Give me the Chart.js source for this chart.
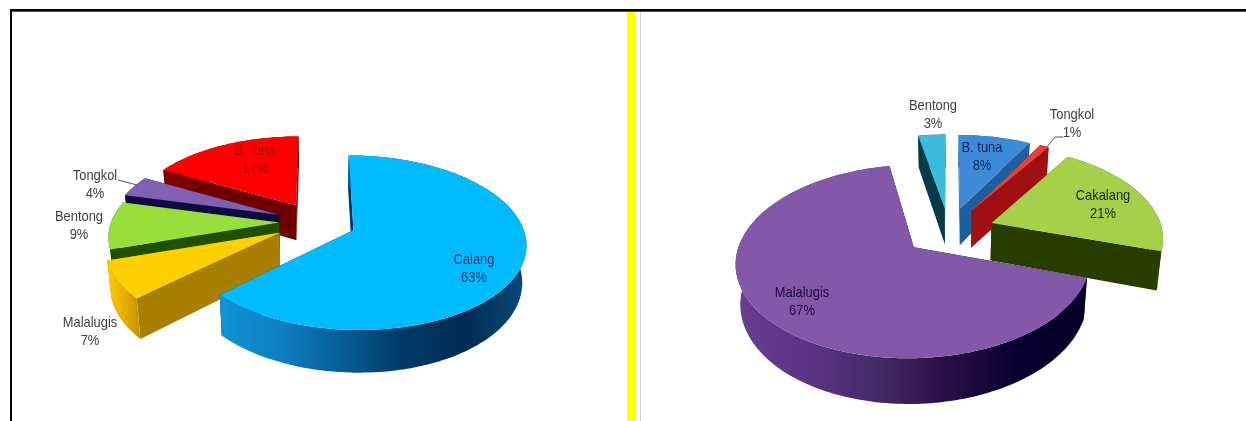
<!DOCTYPE html>
<html>
<head>
<meta charset="utf-8">
<title>Komposisi hasil tangkapan</title>
<script src="https://cdn.jsdelivr.net/npm/chart.js@4/dist/chart.umd.min.js"></script>
<style>
  html, body { margin: 0; padding: 0; background: #fff; overflow: hidden; }
  #page { position: relative; width: 1246px; height: 421px; overflow: hidden; }
  .rule { position: absolute; }
  canvas { position: absolute; }
</style>
</head>
<body>
<div id="page">
  <div class="rule" style="left:10px;top:9px;width:1236px;height:2px;background:#000;border-bottom:1px solid #555"></div>
  <div class="rule" style="left:10px;top:9px;width:2px;height:412px;background:#000"></div>
  <div class="rule" style="left:627px;top:12px;width:9px;height:409px;background:#ffff00"></div>
  <div class="rule" style="left:640px;top:12px;width:1px;height:409px;background:#c8d4d8"></div>
  <canvas id="leftPie" width="612" height="409" style="left:10px;top:12px"></canvas>
  <canvas id="rightPie" width="605" height="409" style="left:641px;top:12px"></canvas>
</div>
<script>
const leftCategories = ["Calang", "Malalugis", "Bentong", "Tongkol", "B. tuna"];
const leftValues = [63, 7, 9, 4, 17];
const rightCategories = ["B. tuna", "Tongkol", "Cakalang", "Malalugis", "Bentong"];
const rightValues = [8, 1, 21, 67, 3];

const leftTop = ["#00bbff", "#ffd000", "#98de3c", "#8060b0", "#ff0000"];
const leftCut = ["#003a68", "#a87f00", "#1e5000", "#100840", "#6e0000"];
const leftRim = [
  ["#1093d6", "#0d7fc0", "#075d96", "#003a66", "#002c55", "#0a4a78"],
  ["#ffcc00", "#e8b400", "#c89800"],
  ["#1e5000", "#1e5000"],
  ["#100840", "#100840"],
  ["#800000", "#6e0000"]
];
const rightTop = ["#3f8ad8", "#e0423c", "#a6d04a", "#8458a8", "#3cbcdc"];
const rightCut = ["#1d5f9e", "#a01010", "#2a3d00", "#100030", "#053a4a"];
const rightRim = [
  ["#1d5f9e", "#1d5f9e"],
  ["#a01010", "#a01010"],
  ["#2a3d00", "#2a3d00"],
  ["#6a3e90", "#5c3485", "#452a6a", "#2a0f45", "#080030", "#050028"],
  ["#053a4a", "#053a4a"]
];

// label anchors: centre of the name line, in page pixels
const leftLabelSpots = [[474, 260], [90, 323], [79, 217], [95, 176], [255, 151]];
const rightLabelSpots = [[982, 148], [1072, 115], [1103, 196], [802, 293], [933, 106]];
const leftLabelInk = ["#0a3a70", "#404040", "#404040", "#404040", "#a01010"];
const rightLabelInk = ["#0a2a60", "#404040", "#1a2a00", "#1a0a40", "#404040"];
const leftLeaders = [[[118, 180], [137, 185]]];
const rightLeaders = [[[1047, 147], [1055, 137], [1063, 137]]];

// Chart.js works out the wedge angles, this re-projects them as a tilted solid
const tiltedPie = {
  id: "tiltedPie",
  beforeDatasetDraw(chart, args, opts) {
    const ctx = chart.ctx;
    const arcs = chart.getDatasetMeta(0).data;
    const r = arcs[0].outerRadius;
    const cx = arcs[0].x, cy = arcs[0].y;

    function project(u, v, low) {
      const s = 1 / (1 + opts.perspective * v);
      let x = r * u * s, y = -r * opts.tilt * v * s;
      if (low) {
        x *= 1 - opts.shrink;
        y += opts.depth * s;
      }
      return [cx + x, cy + y];
    }
    function fillPoly(points, colour) {
      ctx.beginPath();
      points.forEach((p, i) => i ? ctx.lineTo(p[0], p[1]) : ctx.moveTo(p[0], p[1]));
      ctx.closePath();
      ctx.fillStyle = colour;
      ctx.fill();
    }

    const wedges = arcs.map((arc, i) => {
      const mid = (arc.startAngle + arc.endAngle) / 2;
      const off = arc.options.offset / 4;
      const u0 = Math.cos(mid) * off / r, v0 = -Math.sin(mid) * off / r;
      const rim = [];
      const steps = Math.max(2, Math.ceil((arc.endAngle - arc.startAngle) * 40));
      for (let k = 0; k <= steps; k++) {
        const a = arc.startAngle + (arc.endAngle - arc.startAngle) * k / steps;
        rim.push([u0 + Math.cos(a), v0 - Math.sin(a)]);
      }
      return { i, u0, v0, rim, sweep: arc.circumference, mid: -Math.sin(mid) };
    });

    // far wedges first, the big wedge always lands on top
    const biggest = wedges.reduce((a, b) => (b.sweep > a.sweep ? b : a));
    wedges.sort((a, b) => (a === biggest) - (b === biggest) || b.mid - a.mid);

    wedges.forEach(w => {
      const apexTop = project(w.u0, w.v0, false), apexLow = project(w.u0, w.v0, true);
      const upper = w.rim.map(p => project(p[0], p[1], false));
      const lower = w.rim.map(p => project(p[0], p[1], true));
      const last = upper.length - 1;

      fillPoly([apexTop, upper[0], lower[0], apexLow], opts.cut[w.i]);
      fillPoly([apexTop, upper[last], lower[last], apexLow], opts.cut[w.i]);

      const xs = upper.map(p => p[0]);
      const grad = ctx.createLinearGradient(Math.min(...xs), 0, Math.max(...xs), 0);
      const stops = opts.rim[w.i];
      stops.forEach((c, n) => grad.addColorStop(n / (stops.length - 1), c));
      fillPoly(upper.concat(lower.slice().reverse()), grad);

      fillPoly([apexTop].concat(upper), chart.data.datasets[0].backgroundColor[w.i]);
    });
    return false;
  },
  afterDatasetsDraw(chart, args, opts) {
    const ctx = chart.ctx;
    const left = chart.canvas.offsetLeft, top = chart.canvas.offsetTop;
    const ds = chart.data.datasets[0];

    ctx.strokeStyle = "#555";
    ctx.lineWidth = 1;
    opts.leaders.forEach(line => {
      ctx.beginPath();
      line.forEach((p, i) => i ? ctx.lineTo(p[0] - left, p[1] - top) : ctx.moveTo(p[0] - left, p[1] - top));
      ctx.stroke();
    });

    // tall narrow lettering
    ctx.font = '15px "Liberation Sans"';
    ctx.textAlign = "center";
    ctx.textBaseline = "middle";
    chart.data.labels.forEach((name, i) => {
      const spot = opts.spots[i];
      ctx.fillStyle = opts.ink[i];
      ctx.save();
      ctx.translate(spot[0] - left, spot[1] - top);
      ctx.scale(0.86, 1);
      ctx.fillText(name, 0, 0);
      ctx.fillText(ds.data[i] + "%", 0, 18);
      ctx.restore();
    });
  }
};

function makePie(id, labels, values, tops, radius, explode, padding, view) {
  return new Chart(document.getElementById(id), {
    type: "pie",
    data: {
      labels: labels,
      datasets: [{
        data: values,
        backgroundColor: tops,
        borderWidth: 0,
        offset: explode,
        radius: radius
      }]
    },
    options: {
      responsive: false,
      animation: false,
      events: [],
      layout: { padding: padding },
      plugins: {
        legend: { display: false },
        tooltip: { enabled: false },
        tiltedPie: view
      }
    },
    plugins: [tiltedPie]
  });
}

makePie("leftPie", leftCategories, leftValues, leftTop, 168, [161, 167, 147, 161, 161], { top: 11 }, {
  tilt: 0.495, perspective: 0.143, depth: 36, shrink: 0.02,
  cut: leftCut, rim: leftRim, spots: leftLabelSpots, ink: leftLabelInk, leaders: leftLeaders
});
makePie("rightPie", rightCategories, rightValues, rightTop, 171, 183, { left: 11, top: 29 }, {
  tilt: 0.526, perspective: 0.143, depth: 38, shrink: 0.022,
  cut: rightCut, rim: rightRim, spots: rightLabelSpots, ink: rightLabelInk, leaders: rightLeaders
});
</script>
</body>
</html>
